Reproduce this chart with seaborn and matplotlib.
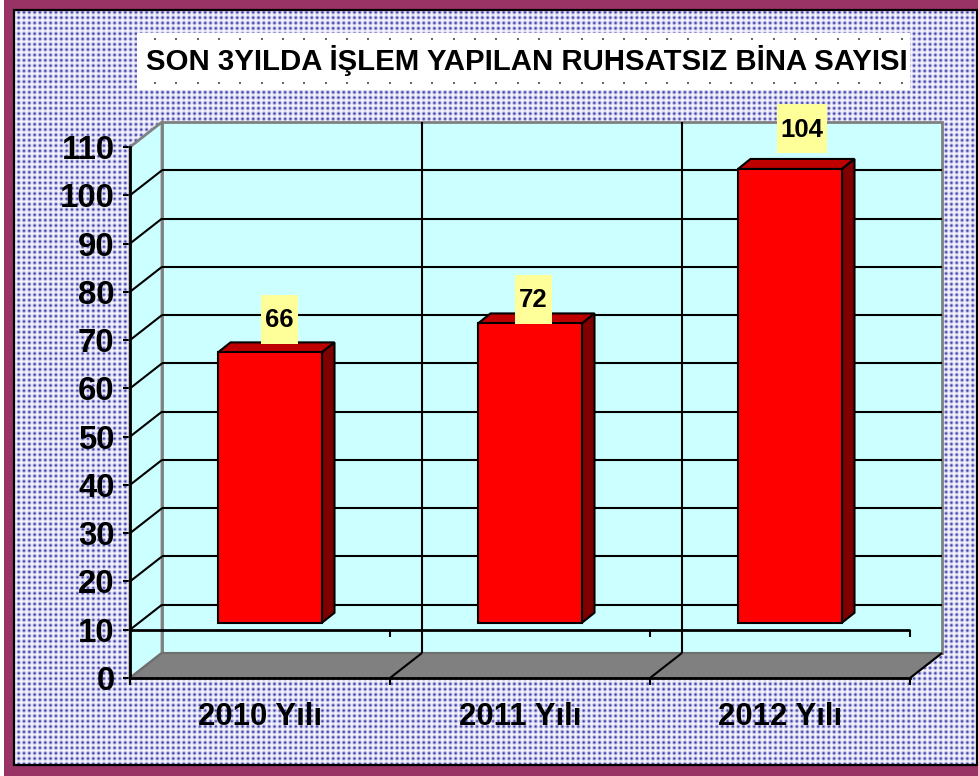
import numpy as np
import pandas as pd
import matplotlib
matplotlib.use("Agg")
import matplotlib.pyplot as plt
from matplotlib.patches import Rectangle, Polygon
from matplotlib.transforms import ScaledTranslation
import seaborn as sns

title = "SON 3YILDA İŞLEM YAPILAN RUHSATSIZ BİNA SAYISI"
years = ["2010 Yılı", "2011 Yılı", "2012 Yılı"]
counts = [66, 72, 104]
y_ticks = [0, 10, 20, 30, 40, 50, 60, 70, 80, 90, 100, 110]
bar_base = 10

sns.set_style("white")
plt.rcParams["font.family"] = ["Liberation Sans", "DejaVu Sans"]

W, H = 979, 776
DPI = 100
fig = plt.figure(figsize=(W / DPI, H / DPI), dpi=DPI, facecolor="white")

# textured slide background
yy, xx = np.mgrid[0:H, 0:W]
period = 5.33
dxp = (xx + 0.5) % period - period / 2
dyp = (yy + 1.5) % period - period / 2
dot = np.exp(-(dxp ** 2 + dyp ** 2) / (2 * 1.1 ** 2))
white = np.array([0.97, 0.97, 1.0])
navy = np.array([0.22, 0.22, 0.66])
tex = white[None, None, :] * (1 - dot[..., None]) + navy[None, None, :] * dot[..., None]
fig.figimage(tex, xo=0, yo=0, origin="upper", zorder=-5)


def frect(x0, y0, x1, y1, **kw):
    r = Rectangle((x0 / W, 1 - y1 / H), (x1 - x0) / W, (y1 - y0) / H,
                  transform=fig.transFigure, **kw)
    fig.add_artist(r)
    return r


MAROON = "#993366"
frect(0, 0, 4, H, facecolor="white", edgecolor="none", zorder=-2)
frect(977.5, 0, W, 766, facecolor="white", edgecolor="none", zorder=-2)
frect(4, 0, 14, H, facecolor=MAROON, edgecolor="none", zorder=-2)
frect(4, 0, W, 9, facecolor=MAROON, edgecolor="none", zorder=-2)
frect(4, 766, W, H, facecolor=MAROON, edgecolor="none", zorder=-2)
frect(14.5, 9.5, 977, 765, facecolor="none", edgecolor="black", linewidth=1.6, zorder=-1)

# title plate
frect(137, 33, 910, 90, facecolor="white", edgecolor="none", zorder=-1)
for yd in (39, 83):
    for xd in np.arange(155, 910, 21.33):
        frect(xd - 1, yd - 1, xd + 1, yd + 1, facecolor="#666666", edgecolor="none", zorder=-1)
fig.text(526.5 / W, 1 - 60 / H, title, ha="center", va="center", fontsize=21.2,
         fontweight="bold", color="black")

# front plane of the chart
ax = fig.add_axes([130 / W, 1 - 678 / H, 780 / W, 531 / H])
ax.patch.set_visible(False)

PX_X = 260.0          # pixels per category
PX_Y = 531.0 / 110    # pixels per unit
DX = 32 / PX_X
DY = 25 / PX_Y
x_left, x_right = -0.5, 2.5
y_top = y_ticks[-1]
LW = 1.5

df = pd.DataFrame({"year": years, "count": counts})
sns.barplot(data=df, x="year", y="count", color="#FF0000", saturation=1, width=0.4,
            edgecolor="black", linewidth=LW, ax=ax, zorder=5)
ax.set_xlim(x_left, x_right)
ax.set_ylim(0, y_top)
ax.set_xlabel("")
ax.set_ylabel("")

# walls and floor
ax.add_patch(Rectangle((x_left + DX, DY), 3, y_top, facecolor="#CCFFFF", edgecolor="#808080",
                       linewidth=2, clip_on=False, zorder=0.5))
ax.add_patch(Polygon([(x_left, 0), (x_left, y_top), (x_left + DX, y_top + DY), (x_left + DX, DY)],
                     closed=True, facecolor="#CCFFFF", edgecolor="#808080", linewidth=2,
                     clip_on=False, zorder=0.6))
ax.add_patch(Polygon([(x_left, 0), (x_right, 0), (x_right + DX, DY), (x_left + DX, DY)],
                     closed=True, facecolor="#808080", edgecolor="#6E6E6E", linewidth=1.5,
                     clip_on=False, zorder=0.7))

line_kw = dict(color="black", linewidth=LW, clip_on=False, solid_capstyle="butt")
for v in y_ticks[1:-1]:
    ax.plot([x_left + DX, x_right + DX], [v + DY, v + DY], zorder=1, **line_kw)
    ax.plot([x_left, x_left + DX], [v, v + DY], zorder=1, **line_kw)
for xb in (0.5, 1.5):
    ax.plot([xb + DX, xb + DX], [DY, y_top + DY], zorder=1.1, **line_kw)
    ax.plot([xb, xb + DX], [0, DY], zorder=1.1, **line_kw)
ax.plot([x_right, x_right + DX], [0, DY], zorder=1.1, **line_kw)
# category axis crossing at the bar base
ax.plot([x_left, x_right], [bar_base, bar_base], zorder=1.2, color="black", linewidth=2,
        clip_on=False, solid_capstyle="butt")
for xb in (0.5, 1.5, 2.5):
    ax.plot([xb, xb], [bar_base, bar_base - 7 / PX_Y], zorder=1.2, **line_kw)

# bars: shifted into the depth of the chart, with top and side faces
bar_off = ax.transData + ScaledTranslation(10 / DPI, 7 / DPI, fig.dpi_scale_trans)
fx, fy = 12.5 / PX_X, 10 / PX_Y
for p, v in zip(ax.patches[:3], counts):
    p.set_y(bar_base)
    p.set_height(v - bar_base)
    p.set_transform(bar_off)
    p.set_clip_on(False)
    p.set_joinstyle("miter")
    x0, x1 = p.get_x(), p.get_x() + p.get_width()
    y0, y1 = bar_base, v
    ax.add_patch(Polygon([(x0, y1), (x1, y1), (x1 + fx, y1 + fy), (x0 + fx, y1 + fy)], closed=True,
                         facecolor="#BF0000", edgecolor="black", linewidth=LW, transform=bar_off,
                         clip_on=False, zorder=4.5, joinstyle="miter"))
    ax.add_patch(Polygon([(x1, y0), (x1, y1), (x1 + fx, y1 + fy), (x1 + fx, y0 + fy)], closed=True,
                         facecolor="#800000", edgecolor="black", linewidth=LW, transform=bar_off,
                         clip_on=False, zorder=4.5, joinstyle="miter"))

# value labels on pale-yellow plates
label_dx = [19.5, 13, 22]
label_dy = [40, 31, 47]
label_w = [37, 37, 50]
for i, v in enumerate(counts):
    cx = i + label_dx[i] / PX_X
    cy = v + label_dy[i] / PX_Y
    w, h = label_w[i] / PX_X, 49 / PX_Y
    ax.add_patch(Rectangle((cx - w / 2, cy - h / 2), w, h, facecolor="#FFFF99", edgecolor="none",
                           clip_on=False, zorder=6))
    ax.text(cx, cy - 1 / PX_Y, str(v), ha="center", va="center", fontsize=18.5, fontweight="bold",
            color="black", clip_on=False, zorder=7)

# axes
for s in ("top", "right"):
    ax.spines[s].set_visible(False)
for s in ("left", "bottom"):
    ax.spines[s].set_color("black")
    ax.spines[s].set_linewidth(2)
    ax.spines[s].set_zorder(3)
ax.set_yticks(y_ticks)
ax.set_yticklabels([str(t) for t in y_ticks], fontsize=23.8, fontweight="bold", color="black")
ax.tick_params(axis="y", which="major", left=True, length=5, width=1.5, pad=6, color="black")
ax.set_xticks(range(len(years)))
ax.set_xticklabels(years, fontsize=22.4, fontweight="bold", color="black")
ax.set_xticks([-0.5, 0.5, 1.5, 2.5], minor=True)
ax.tick_params(axis="x", which="major", bottom=False, length=0, pad=17)
ax.tick_params(axis="x", which="minor", bottom=True, length=5, width=1.5, color="black")
ax.grid(False)

fig.savefig("out.png", dpi=DPI, facecolor="white")
